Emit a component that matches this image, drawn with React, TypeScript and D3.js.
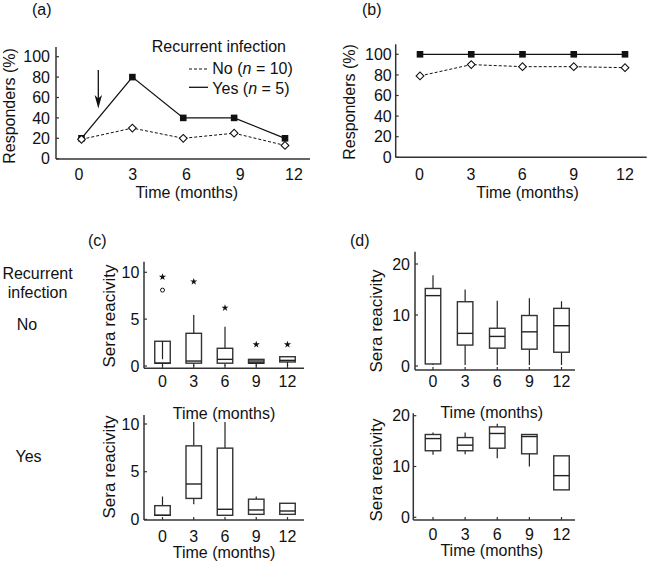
import React from 'react';
import * as d3 from 'd3';

// ---------- data ----------
const months = [0, 3, 6, 9, 12];
const pctTicks = [0, 20, 40, 60, 80, 100];
const aNo = [19, 30, 20, 25, 13];
const aYes = [20, 80, 40, 40, 20];
const bNo = [79, 90, 88, 88, 87];
const bYes = [100, 100, 100, 100, 100];

const cTicks = [0, 5, 10];
const dTicks = [0, 10, 20];

// (c) No recurrent infection
const cNoLo = [0, 0, 0, 0, 0];
const cNoQ1 = [0.3, 0.3, 0.3, 0.3, 0.43];
const cNoMed = [0.3, 0.53, 0.71, 0.3, 0.6];
const cNoQ3 = [2.64, 3.49, 1.89, 0.71, 0.99];
const cNoHi = [2.64, 5.44, 4.2, 0.71, 0.99];
const cNoInner = [0.72, null, null, null, null];
const cNoStars = [9.5, 9.0, 6.2, 2.3, 2.3];
const cNoCircles = [8.1, null, null, null, null];

// (c) Yes recurrent infection
const cYesLo = [0.43, 1.58, 0.43, 0.53, 0.53];
const cYesQ1 = [0.43, 2.2, 0.43, 0.53, 0.53];
const cYesMed = [0.43, 3.71, 1.06, 0.99, 0.88];
const cYesQ3 = [1.44, 7.71, 7.47, 2.12, 1.69];
const cYesHi = [2.4, 10.2, 10.2, 2.4, 1.69];

// (d) No recurrent infection
const dNoLo = [0.2, 0.2, 0.2, 0.2, 0.2];
const dNoQ1 = [0.4, 4.1, 3.5, 3.3, 2.7];
const dNoMed = [13.8, 6.4, 5.8, 6.7, 7.9];
const dNoQ3 = [15.2, 12.6, 7.4, 9.9, 11.3];
const dNoHi = [17.8, 15.0, 12.8, 13.3, 12.7];

// (d) Yes recurrent infection
const dYesLo = [12.3, 12.4, 11.6, 10.0, 5.4];
const dYesQ1 = [13.1, 13.1, 13.6, 12.5, 5.4];
const dYesMed = [15.5, 14.2, 16.5, 15.9, 8.2];
const dYesQ3 = [16.3, 15.7, 17.8, 16.3, 12.1];
const dYesHi = [16.7, 16.7, 18.4, 16.3, 12.1];

// ---------- style ----------
const FONT = '"Liberation Sans", Arial, Helvetica, sans-serif';
const FS = 16;
const AX = '#333';

type LineProps = {
  no: number[]; yes: number[];
  xr: [number, number]; xlr: [number, number]; yr: [number, number];
  axX: number; axTop: number; axY: number; axRight: number;
  tickEnd: number; xTickBase: number;
  ylabX: number; ylabY: number; xlabX: number; xlabY: number;
};

function LinePanel(p: LineProps) {
  const x = d3.scaleLinear().domain([0, 12]).range(p.xr);
  const xl = d3.scaleLinear().domain([0, 12]).range(p.xlr);
  const y = d3.scaleLinear().domain([0, 100]).range(p.yr);
  const line = d3.line<number>().x((_, i) => x(months[i])).y(d => y(d));
  const diamond = d3.symbol().type(d3.symbolSquare).size(30)();
  return (
    <g>
      <line x1={p.axX} x2={p.axX} y1={p.axTop} y2={p.axY} stroke={AX} strokeWidth={1.5} />
      <line x1={p.axX} x2={p.axRight} y1={p.axY} y2={p.axY} stroke={AX} strokeWidth={1.5} />
      {pctTicks.map(t => (
        <g key={t}>
          <line x1={p.axX} x2={p.axX + 3} y1={y(t)} y2={y(t)} stroke={AX} strokeWidth={1.2} />
          <text x={p.tickEnd} y={y(t)} dy="0.36em" textAnchor="end">{t}</text>
        </g>
      ))}
      {months.map(m => (
        <text key={m} x={xl(m)} y={p.xTickBase} textAnchor="middle">{m}</text>
      ))}
      <path d={line(p.no) || ''} fill="none" stroke="#111" strokeWidth={1} strokeDasharray="3,2" />
      <path d={line(p.yes) || ''} fill="none" stroke="#111" strokeWidth={1.3} />
      {p.yes.map((v, i) => (
        <rect key={'s' + i} x={x(months[i]) - 3.3} y={y(v) - 3.3} width={6.6} height={6.6} fill="#111" />
      ))}
      {p.no.map((v, i) => (
        <path key={'d' + i} d={diamond} transform={`translate(${x(months[i])},${y(v)}) rotate(45)`} fill="#fff" stroke="#111" strokeWidth={1.1} />
      ))}
      <text transform={`translate(${p.ylabX},${p.ylabY}) rotate(-90)`} textAnchor="middle">Responders (%)</text>
      <text x={p.xlabX} y={p.xlabY} textAnchor="middle">Time (months)</text>
    </g>
  );
}

type BoxProps = {
  lo: number[]; q1: number[]; med: number[]; q3: number[]; hi: number[];
  inner?: (number | null)[]; stars?: number[]; circles?: (number | null)[];
  ticks: number[]; ymax: number;
  xr: [number, number]; yr: [number, number];
  axX: number; axTop: number; axY: number; axRight: number;
  tickEnd: number; xTickBase: number;
  ylabX: number; ylabY: number; xlabX: number; xlabY: number;
};

function BoxPanel(p: BoxProps) {
  const x = d3.scaleLinear().domain([0, 12]).range(p.xr);
  const y = d3.scaleLinear().domain([0, p.ymax]).range(p.yr);
  const bw = 15.5;
  const star = d3.symbol().type(d3.symbolStar).size(16)();
  return (
    <g>
      <line x1={p.axX} x2={p.axX} y1={p.axTop} y2={p.axY} stroke={AX} strokeWidth={1.5} />
      <line x1={p.axX} x2={p.axRight} y1={p.axY} y2={p.axY} stroke={AX} strokeWidth={1.5} />
      {p.ticks.map(t => (
        <g key={t}>
          <line x1={p.axX} x2={p.axX + 3} y1={y(t)} y2={y(t)} stroke={AX} strokeWidth={1.2} />
          <text x={p.tickEnd} y={y(t)} dy="0.36em" textAnchor="end">{t}</text>
        </g>
      ))}
      {months.map((m, i) => {
        const cx = x(m);
        const top = y(p.q3[i]);
        const bot = y(p.q1[i]);
        const thin = bot - top < 5;
        const inner = p.inner ? p.inner[i] : null;
        return (
          <g key={m}>
            <line x1={cx} x2={cx} y1={p.axY} y2={p.axY - 3} stroke={AX} strokeWidth={1.2} />
            <line x1={cx} x2={cx} y1={y(p.hi[i])} y2={top} stroke="#222" strokeWidth={1.2} />
            <line x1={cx} x2={cx} y1={bot} y2={y(p.lo[i])} stroke="#222" strokeWidth={1.2} />
            <rect x={cx - bw / 2} y={top} width={bw} height={Math.max(bot - top, 0.5)}
              fill={thin ? '#666' : '#fff'} stroke="#333" strokeWidth={1.4} />
            <line x1={cx - bw / 2} x2={cx + bw / 2} y1={y(p.med[i])} y2={y(p.med[i])} stroke="#222" strokeWidth={1.4} />
            {inner != null && (
              <line x1={cx} x2={cx} y1={top} y2={y(inner)} stroke="#222" strokeWidth={1.2} />
            )}
            {p.stars && (
              <path d={star} transform={`translate(${cx},${y(p.stars[i])})`} fill="#111" />
            )}
            {p.circles && p.circles[i] != null && (
              <circle cx={cx} cy={y(p.circles[i] as number)} r={2} fill="#fff" stroke="#111" strokeWidth={1} />
            )}
          </g>
        );
      })}
      {months.map(m => (
        <text key={'t' + m} x={x(m)} y={p.xTickBase} textAnchor="middle">{m}</text>
      ))}
      <text transform={`translate(${p.ylabX},${p.ylabY}) rotate(-90)`} textAnchor="middle" fontSize={17}>Sera reacivity</text>
      <text x={p.xlabX} y={p.xlabY} textAnchor="middle">Time (months)</text>
    </g>
  );
}

export default function App() {
  return (
    <svg width={649} height={564} viewBox="0 0 649 564"
      style={{ position: 'absolute', left: 0, top: 0, background: '#fff' }}
      fontFamily={FONT} fontSize={FS} fill="#111">
      <rect x={0} y={0} width={649} height={564} fill="#fff" />
      {/* panel labels */}
      <text x={32} y={15}>(a)</text>
      <text x={362} y={15}>(b)</text>
      <text x={88} y={246}>(c)</text>
      <text x={350} y={246}>(d)</text>

      {/* (a) */}
      <LinePanel no={aNo} yes={aYes} xr={[81.5, 285]} xlr={[79, 294]} yr={[158.7, 56.7]}
        axX={56} axTop={47} axY={159} axRight={310} tickEnd={50} xTickBase={180}
        ylabX={15} ylabY={106} xlabX={186.7} xlabY={198} />
      {/* legend */}
      <text x={151.7} y={51.7}>Recurrent infection</text>
      <line x1={189} x2={208} y1={69} y2={69} stroke="#111" strokeWidth={1} strokeDasharray="3,2" />
      <text x={212.3} y={74}>No (<tspan fontStyle="italic">n</tspan> = 10)</text>
      <line x1={189} x2={208} y1={87.3} y2={87.3} stroke="#111" strokeWidth={1.3} />
      <text x={212.3} y={94.3}>Yes (<tspan fontStyle="italic">n</tspan> = 5)</text>
      {/* arrow */}
      <line x1={98.3} x2={98.3} y1={70} y2={100} stroke="#111" strokeWidth={1.3} />
      <path d="M98.3,108.5 L94.6,95 L98.3,98.5 L102,95 Z" fill="#111" />

      {/* (b) */}
      <LinePanel no={bNo} yes={bYes} xr={[420, 625]} xlr={[419.5, 625]} yr={[157.3, 54.3]}
        axX={395.7} axTop={44.3} axY={157.3} axRight={646.7} tickEnd={391.7} xTickBase={180}
        ylabX={355} ylabY={102} xlabX={527.5} xlabY={198} />

      {/* row labels */}
      <text x={37.5} y={279} textAnchor="middle">Recurrent</text>
      <text x={37.5} y={298} textAnchor="middle">infection</text>
      <text x={27} y={330} textAnchor="middle">No</text>
      <text x={28.5} y={462} textAnchor="middle">Yes</text>

      {/* (c) top */}
      <BoxPanel lo={cNoLo} q1={cNoQ1} med={cNoMed} q3={cNoQ3} hi={cNoHi} inner={cNoInner}
        stars={cNoStars} circles={cNoCircles} ticks={cTicks} ymax={10}
        xr={[162.5, 287.5]} yr={[366, 272.3]} axX={144} axTop={261.7} axY={368.3} axRight={304}
        tickEnd={139.3} xTickBase={386.7} ylabX={115} ylabY={316} xlabX={224} xlabY={418.5} />
      {/* (c) bottom */}
      <BoxPanel lo={cYesLo} q1={cYesQ1} med={cYesMed} q3={cYesQ3} hi={cYesHi} ticks={cTicks} ymax={10}
        xr={[162.5, 287.5]} yr={[519.4, 424]} axX={144} axTop={415} axY={520} axRight={304}
        tickEnd={139.3} xTickBase={541.7} ylabX={115} ylabY={467} xlabX={224} xlabY={558} />
      {/* (d) top */}
      <BoxPanel lo={dNoLo} q1={dNoQ1} med={dNoMed} q3={dNoQ3} hi={dNoHi} ticks={dTicks} ymax={20}
        xr={[433, 561.5]} yr={[366, 264]} axX={415} axTop={251.7} axY={370} axRight={575}
        tickEnd={410} xTickBase={386.7} ylabX={382} ylabY={321} xlabX={491.7} xlabY={418} />
      {/* (d) bottom */}
      <BoxPanel lo={dYesLo} q1={dYesQ1} med={dYesMed} q3={dYesQ3} hi={dYesHi} ticks={dTicks} ymax={20}
        xr={[433, 561.5]} yr={[517.3, 415.7]} axX={413.3} axTop={413.3} axY={520} axRight={575}
        tickEnd={410} xTickBase={540} ylabX={382} ylabY={470} xlabX={491.7} xlabY={556} />
    </svg>
  );
}
